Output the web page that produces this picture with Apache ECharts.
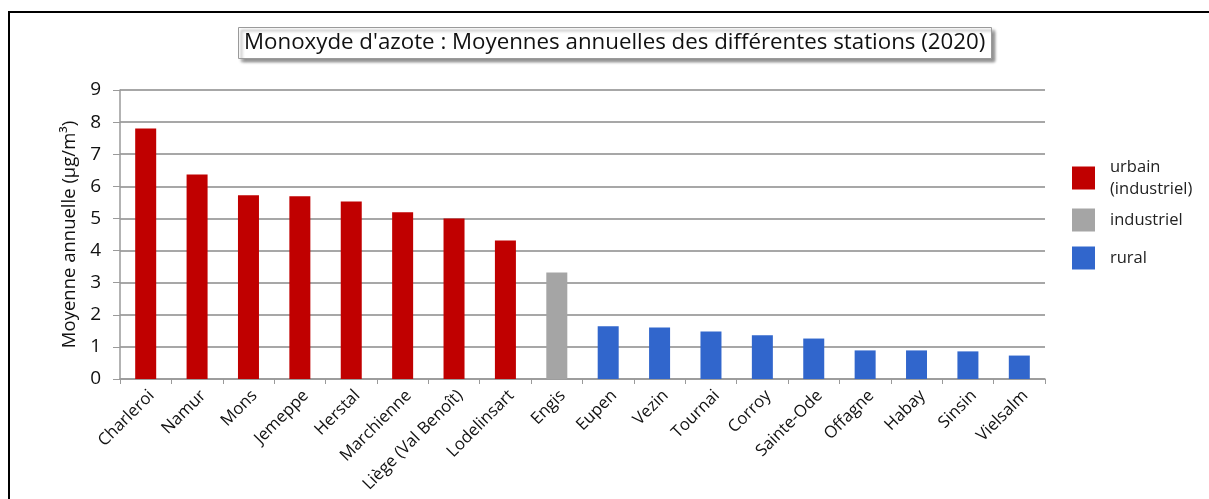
<!DOCTYPE html>
<html>
<head>
<meta charset="utf-8">
<style>
 html, body{
 	margin: 0;
 	padding: 0;
 	background: #fff;
 }
 #frame{
 	position: absolute;
 	left: 8px;
 	top: 11px;
 	width: 1201px;
 	height: 488px;
 	border-top: 2px solid #000;
 	border-left: 2px solid #000;
 	box-sizing: border-box;
 }
 #chart{
 	position: absolute;
 	left: 0;
 	top: 0;
 	width: 1209px;
 	height: 499px;
 }
</style>
</head>
<body>
<div id="frame"></div>
<div id="chart"></div>
<script src="https://cdn.jsdelivr.net/npm/echarts@6/dist/echarts.min.js"></script>
<script type="text/javascript">
	// stations, moyennes annuelles NO (µg/m³), type de station
	var stations = ['Charleroi', 'Namur', 'Mons', 'Jemeppe', 'Herstal', 'Marchienne', 'Liège (Val Benoît)', 'Lodelinsart',
	                'Engis', 'Eupen', 'Vezin', 'Tournai', 'Corroy', 'Sainte-Ode', 'Offagne', 'Habay', 'Sinsin', 'Vielsalm'];
	var moyennes = [7.80, 6.37, 5.72, 5.69, 5.53, 5.19, 5.00, 4.31,
	                3.32, 1.64, 1.60, 1.48, 1.36, 1.26, 0.89, 0.89, 0.86, 0.73];
	var types = ['urbain', 'urbain', 'urbain', 'urbain', 'urbain', 'urbain', 'urbain', 'urbain',
	             'industriel', 'rural', 'rural', 'rural', 'rural', 'rural', 'rural', 'rural', 'rural', 'rural'];
	var groupes = [
		{key: 'urbain', name: 'urbain\n(industriel)', color: '#C00000'},
		{key: 'industriel', name: 'industriel', color: '#A5A5A5'},
		{key: 'rural', name: 'rural', color: '#3166CC'}
	];
	var yTicks = [0, 9, 1];

	var series = groupes.map(function (g) {
		return {
			name: g.name,
			type: 'bar',
			stack: 'total',
			barWidth: 21,
			itemStyle: {color: g.color},
			data: moyennes.map(function (v, i) { return types[i] == g.key ? v : null; })
		};
	});

	var options = {
		animation: false,
		textStyle: {fontFamily: 'Open Sans'},
		title: {
			text: "Monoxyde d'azote : Moyennes annuelles des différentes stations (2020)",
			left: 238,
			top: 27,
			padding: [5, 6, 5, 6],
			backgroundColor: '#fff',
			borderColor: '#9a9a9a',
			borderWidth: 1,
			shadowColor: 'rgba(0,0,0,0.45)',
			shadowBlur: 3,
			shadowOffsetX: 3,
			shadowOffsetY: 3,
			textStyle: {fontSize: 22.3, fontWeight: 'normal', color: '#111', fontFamily: 'Open Sans'}
		},
		legend: {
			orient: 'vertical',
			left: 1072,
			top: 156,
			padding: 0,
			itemWidth: 23,
			itemHeight: 23,
			itemGap: 2,
			icon: 'rect',
			textStyle: {fontSize: 16.5, color: '#222', lineHeight: 22, padding: [0, 0, 0, 10]},
			data: groupes.map(function (g, i) {
				return i == 0 ? {name: g.name} : {name: g.name, textStyle: {fontSize: 16.5, lineHeight: 30, padding: [6, 0, 0, 10]}};
			})
		},
		grid: {left: 120, right: 164, top: 90, bottom: 120},
		xAxis: {
			type: 'category',
			data: stations,
			axisLine: {lineStyle: {color: '#9a9a9a', width: 1.5}},
			axisTick: {show: true, length: 5, lineStyle: {color: '#9a9a9a'}},
			axisLabel: {rotate: 45, fontSize: 16.7, color: '#111', margin: 8, interval: 0, verticalAlign: 'top'}
		},
		yAxis: {
			type: 'value',
			min: yTicks[0],
			max: yTicks[1],
			interval: yTicks[2],
			name: 'Moyenne annuelle (µg/m³)',
			nameLocation: 'middle',
			nameGap: 38,
			nameTextStyle: {fontSize: 18.5, color: '#111'},
			axisLine: {show: true, lineStyle: {color: '#9a9a9a', width: 1.5}},
			axisTick: {show: true, length: 7, lineStyle: {color: '#9a9a9a'}},
			axisLabel: {fontSize: 19, color: '#111', margin: 19},
			splitLine: {lineStyle: {color: '#8a8a8a', width: 1.5}}
		},
		series: series
	};

	var myChart = echarts.init(document.getElementById('chart'));
	myChart.setOption(options);
</script>
</body>
</html>
